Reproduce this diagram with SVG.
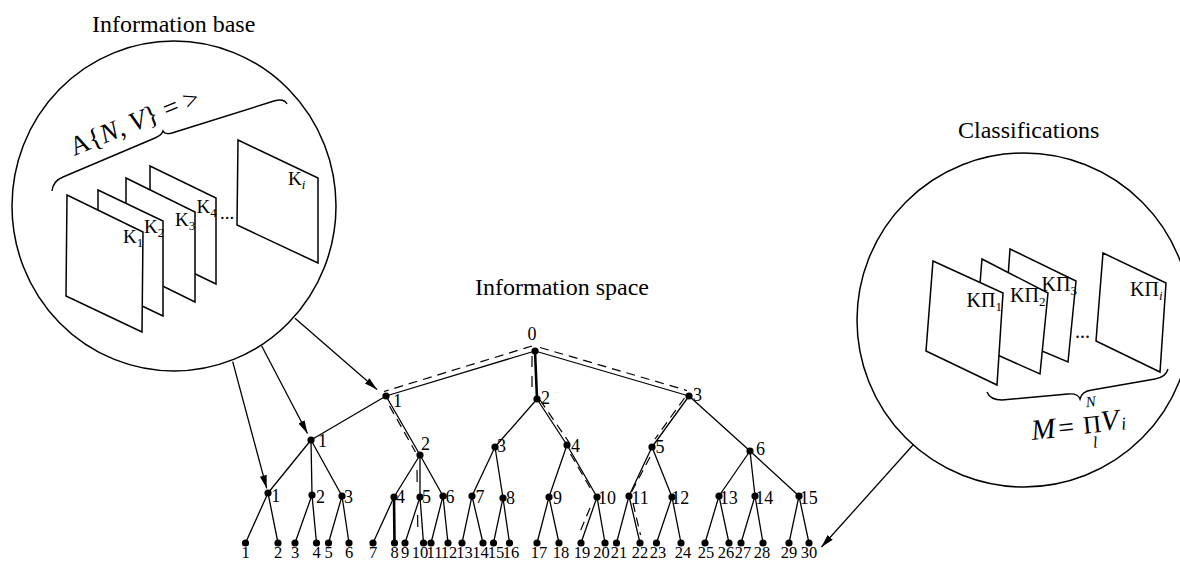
<svg xmlns="http://www.w3.org/2000/svg" width="1180" height="561" viewBox="0 0 1180 561">
<defs>
<style>
text{font-family:"Liberation Serif","Times New Roman",serif;fill:#000}
.title{font-size:24px}
.lbl{font-size:18px}
.leaf{font-size:16.5px;text-anchor:middle}
.k{font-size:19px}
.kp{font-size:20px}
.sub{font-size:13px}
.it{font-style:italic}
.ring{fill:none;stroke:#000;stroke-width:1.5}
.sheet{fill:#fff;stroke:#000;stroke-width:1.5;stroke-linejoin:miter}
.brace{fill:none;stroke:#000;stroke-width:1.4}
.edge{fill:none;stroke:#000;stroke-width:1.3}
.thick{fill:none;stroke:#000;stroke-width:2.6}
.dash{fill:none;stroke:#000;stroke-width:1.2;stroke-dasharray:9 6}
.arrow{fill:none;stroke:#000;stroke-width:1.3;marker-end:url(#ah)}
.dot{fill:#000}
</style>
<marker id="ah" markerUnits="userSpaceOnUse" markerWidth="14" markerHeight="8" refX="13" refY="3.5" orient="auto">
<path d="M0,0 L13,3.5 L0,7 z" fill="#000"/>
</marker>
</defs>
<rect width="1180" height="561" fill="#fff"/>

<g id="information-base">
<text class="title" x="92" y="32">Information base</text>
<ellipse class="ring" cx="174" cy="206" rx="162" ry="165"/>
<path class="brace" d="M52,191 Q53,181 63,177 L155,138 Q162,135 163,131 Q165,135 172,133 L274,101 Q284,98 287,104"/>
<text transform="rotate(-22 74 156)" x="74" y="156" style="font-size:27px">A{<tspan class="it">N</tspan>, <tspan class="it">V</tspan>} = &gt;</text>
<polygon class="sheet" points="238,140 318,178 318,263 237,225"/>
<polygon class="sheet" points="150,166 216,198 216,284 150,252"/>
<polygon class="sheet" points="126,178 195,212 195,302 126,268"/>
<polygon class="sheet" points="98,190 163,221 163,316 98,285"/>
<polygon class="sheet" points="67,195 143,232 142,332 66,296"/>
<text class="k" x="123" y="243">K<tspan class="sub" dy="4">1</tspan></text>
<text class="k" x="144" y="233">K<tspan class="sub" dy="4">2</tspan></text>
<text class="k" x="175" y="226">K<tspan class="sub" dy="4">3</tspan></text>
<text class="k" x="196.5" y="212.5">K<tspan class="sub" dy="4">4</tspan></text>
<text class="k" x="220" y="219">...</text>
<text class="k" x="288" y="185">K<tspan class="sub it" dy="4">i</tspan></text>
</g>

<g id="classifications">
<text class="title" x="958" y="138">Classifications</text>
<circle class="ring" cx="1024" cy="320" r="167"/>
<polygon class="sheet" points="1103,253 1166,283 1160,372 1096,341"/>
<polygon class="sheet" points="1010,249 1076,281 1068,362 1004,335"/>
<polygon class="sheet" points="982,259 1048,293 1040,374 975,345"/>
<polygon class="sheet" points="933,261 1003,293 997,385 926,351"/>
<text class="kp" x="966.5" y="307">KП<tspan class="sub" dy="4">1</tspan></text>
<text class="kp" x="1010" y="302">KП<tspan class="sub" dy="4">2</tspan></text>
<text class="kp" x="1041.5" y="291">KП<tspan class="sub" dy="4">3</tspan></text>
<text class="kp" x="1130" y="296">KП<tspan class="sub it" dy="4">i</tspan></text>
<text class="kp" x="1075" y="338">...</text>
<path class="brace" d="M987,392 Q990,400 1002,400 L1068,394 Q1078,393 1080,399 Q1082,391 1092,390 L1155,379 Q1166,377 1168,369"/>
<g transform="rotate(-6 1080 425)">
<text class="it" x="1031" y="435" style="font-size:29px">M</text>
<text x="1058" y="435" style="font-size:28px">=</text>
<text x="1083" y="434" style="font-size:25px">Π</text>
<text class="it" x="1101" y="433" style="font-size:29px">V</text>
<text class="it" x="1121" y="434" style="font-size:18px">i</text>
<text class="it" x="1088" y="408" style="font-size:15px">N</text>
<text class="it" x="1091" y="449" style="font-size:16px">l</text>
</g>
</g>

<g id="information-space-title">
<text class="title" x="475" y="295">Information space</text>
</g>

<g id="connectors">
<path class="edge" d="M535,351 L386,396 M535,351 L689,396"/>
<path class="thick" d="M535,351 L537,399"/>
<path class="edge" d="M386,396 L311,440 M386,396 L420,455 M537,399 L495,447 M537,399 L567,445 M689,396 L652,447 M689,396 L750,451"/>
<path class="edge" d="M311,440 L268,493 M311,440 L312,495 M311,440 L342,496 M420,455 L394,497 M420,455 L420,497 M420,455 L443,496 M495,447 L472,496 M495,447 L503,498 M567,445 L549,497 M567,445 L597,497 M652,447 L629,496 M652,447 L672,497 M750,451 L719,496 M750,451 L755,496 M750,451 L799,496"/>
<path class="edge" d="M268,493 L245.5,543 M268,493 L278,543 M312,495 L295,543 M312,495 L316.5,543 M342,496 L328.5,543 M342,496 L349,543 M394,497 L373,543 M420,497 L405,543 M420,497 L423.5,543 M443,496 L431,543 M443,496 L448,543 M472,496 L462,543 M472,496 L483,543 M503,498 L493.5,543 M503,498 L509.5,543 M549,497 L537,543 M549,497 L559,543 M597,497 L581,543 M597,497 L605,543 M629,496 L616.5,543 M629,496 L640,543 M672,497 L656.5,543 M672,497 L681,543 M719,496 L705,543 M719,496 L729,543 M755,496 L741,543 M755,496 L763,543 M799,496 L789,543 M799,496 L809,543"/>
<path class="thick" d="M394,497 L394.5,543"/>
<path class="dash" d="M532,346 L384,391.5"/>
<path class="dash" d="M540,347.5 L687,390.5"/>
<path class="dash" style="stroke-dasharray:11 9" d="M532,356 L532,396"/>
<path class="dash" d="M389.5,406 L415.5,452"/>
<path class="dash" style="stroke-dasharray:12 33" d="M417,470 L418,542"/>
<path class="dash" d="M540,400 L569.5,443"/>
<path class="dash" d="M570.5,454 L592.5,492"/>
<path class="dash" d="M590,508 L579.5,533"/>
<path class="dash" d="M684.5,398 L655,439"/>
<path class="dash" d="M650,457 L631,493"/>
<path class="dash" d="M633,503 L640.5,535"/>
<path class="arrow" d="M232.7,361.7 L266.7,488.3"/>
<path class="arrow" d="M261.7,346 L307.5,433.5"/>
<path class="arrow" d="M295,318.3 L377,389.5"/>
<path class="arrow" d="M913,445 L821.5,547"/>
</g>

<g id="node-0"><circle class="dot" cx="535" cy="351" r="3.6"/><text class="lbl" x="532" y="340" text-anchor="middle">0</text></g>
<g id="node-L1-1"><circle class="dot" cx="386" cy="396" r="3.6"/><text class="lbl" x="393" y="407">1</text></g>
<g id="node-L1-2"><circle class="dot" cx="537" cy="399" r="3.6"/><text class="lbl" x="541" y="404">2</text></g>
<g id="node-L1-3"><circle class="dot" cx="689" cy="396" r="3.6"/><text class="lbl" x="693" y="401">3</text></g>
<g id="node-L2-1"><circle class="dot" cx="311" cy="440" r="3.6"/><text class="lbl" x="318" y="447">1</text></g>
<g id="node-L2-2"><circle class="dot" cx="420" cy="455" r="3.6"/><text class="lbl" x="421" y="450">2</text></g>
<g id="node-L2-3"><circle class="dot" cx="495" cy="447" r="3.6"/><text class="lbl" x="497" y="452">3</text></g>
<g id="node-L2-4"><circle class="dot" cx="567" cy="445" r="3.6"/><text class="lbl" x="571" y="452">4</text></g>
<g id="node-L2-5"><circle class="dot" cx="652" cy="447" r="3.6"/><text class="lbl" x="655.5" y="453">5</text></g>
<g id="node-L2-6"><circle class="dot" cx="750" cy="451" r="3.6"/><text class="lbl" x="756" y="455">6</text></g>
<g id="node-L3-1"><circle class="dot" cx="268" cy="493" r="3.6"/><text class="lbl" x="271.3" y="502">1</text></g>
<g id="node-L3-2"><circle class="dot" cx="312" cy="495" r="3.6"/><text class="lbl" x="316" y="503">2</text></g>
<g id="node-L3-3"><circle class="dot" cx="342" cy="496" r="3.6"/><text class="lbl" x="344" y="503">3</text></g>
<g id="node-L3-4"><circle class="dot" cx="394" cy="497" r="3.6"/><text class="lbl" x="396" y="503">4</text></g>
<g id="node-L3-5"><circle class="dot" cx="420" cy="497" r="3.6"/><text class="lbl" x="422" y="503">5</text></g>
<g id="node-L3-6"><circle class="dot" cx="443" cy="496" r="3.6"/><text class="lbl" x="445.5" y="503">6</text></g>
<g id="node-L3-7"><circle class="dot" cx="472" cy="496" r="3.6"/><text class="lbl" x="475.5" y="503">7</text></g>
<g id="node-L3-8"><circle class="dot" cx="503" cy="498" r="3.6"/><text class="lbl" x="506" y="504">8</text></g>
<g id="node-L3-9"><circle class="dot" cx="549" cy="497" r="3.6"/><text class="lbl" x="553" y="504">9</text></g>
<g id="node-L3-10"><circle class="dot" cx="597" cy="497" r="3.6"/><text class="lbl" x="598" y="504">10</text></g>
<g id="node-L3-11"><circle class="dot" cx="629" cy="496" r="3.6"/><text class="lbl" x="631.3" y="504">11</text></g>
<g id="node-L3-12"><circle class="dot" cx="672" cy="497" r="3.6"/><text class="lbl" x="671.3" y="504">12</text></g>
<g id="node-L3-13"><circle class="dot" cx="719" cy="496" r="3.6"/><text class="lbl" x="719.7" y="504">13</text></g>
<g id="node-L3-14"><circle class="dot" cx="755" cy="496" r="3.6"/><text class="lbl" x="755.3" y="504">14</text></g>
<g id="node-L3-15"><circle class="dot" cx="799" cy="496" r="3.6"/><text class="lbl" x="799.7" y="504">15</text></g>

<g id="leaf-1"><circle class="dot" cx="245.5" cy="543" r="3.6"/><text class="leaf" x="245.5" y="557.5">1</text></g>
<g id="leaf-2"><circle class="dot" cx="278" cy="543" r="3.6"/><text class="leaf" x="278" y="557.5">2</text></g>
<g id="leaf-3"><circle class="dot" cx="295" cy="543" r="3.6"/><text class="leaf" x="295" y="557.5">3</text></g>
<g id="leaf-4"><circle class="dot" cx="316.5" cy="543" r="3.6"/><text class="leaf" x="316.5" y="557.5">4</text></g>
<g id="leaf-5"><circle class="dot" cx="328.5" cy="543" r="3.6"/><text class="leaf" x="328.5" y="557.5">5</text></g>
<g id="leaf-6"><circle class="dot" cx="349" cy="543" r="3.6"/><text class="leaf" x="349" y="557.5">6</text></g>
<g id="leaf-7"><circle class="dot" cx="373" cy="543" r="3.6"/><text class="leaf" x="373" y="557.5">7</text></g>
<g id="leaf-8"><circle class="dot" cx="394.5" cy="543" r="3.6"/><text class="leaf" x="394.5" y="557.5">8</text></g>
<g id="leaf-9"><circle class="dot" cx="405" cy="543" r="3.6"/><text class="leaf" x="405" y="557.5">9</text></g>
<g id="leaf-10"><circle class="dot" cx="423.5" cy="543" r="3.6"/><text class="leaf" x="420" y="557.5">10</text></g>
<g id="leaf-11"><circle class="dot" cx="431" cy="543" r="3.6"/><text class="leaf" x="434.5" y="557.5">11</text></g>
<g id="leaf-12"><circle class="dot" cx="448" cy="543" r="3.6"/><text class="leaf" x="449" y="557.5">12</text></g>
<g id="leaf-13"><circle class="dot" cx="462" cy="543" r="3.6"/><text class="leaf" x="464.5" y="557.5">13</text></g>
<g id="leaf-14"><circle class="dot" cx="483" cy="543" r="3.6"/><text class="leaf" x="480.5" y="557.5">14</text></g>
<g id="leaf-15"><circle class="dot" cx="493.5" cy="543" r="3.6"/><text class="leaf" x="496" y="557.5">15</text></g>
<g id="leaf-16"><circle class="dot" cx="509.5" cy="543" r="3.6"/><text class="leaf" x="511" y="557.5">16</text></g>
<g id="leaf-17"><circle class="dot" cx="537" cy="543" r="3.6"/><text class="leaf" x="539" y="557.5">17</text></g>
<g id="leaf-18"><circle class="dot" cx="559" cy="543" r="3.6"/><text class="leaf" x="561" y="557.5">18</text></g>
<g id="leaf-19"><circle class="dot" cx="581" cy="543" r="3.6"/><text class="leaf" x="582" y="557.5">19</text></g>
<g id="leaf-20"><circle class="dot" cx="605" cy="543" r="3.6"/><text class="leaf" x="601.5" y="557.5">20</text></g>
<g id="leaf-21"><circle class="dot" cx="616.5" cy="543" r="3.6"/><text class="leaf" x="619" y="557.5">21</text></g>
<g id="leaf-22"><circle class="dot" cx="640" cy="543" r="3.6"/><text class="leaf" x="640" y="557.5">22</text></g>
<g id="leaf-23"><circle class="dot" cx="656.5" cy="543" r="3.6"/><text class="leaf" x="658" y="557.5">23</text></g>
<g id="leaf-24"><circle class="dot" cx="681" cy="543" r="3.6"/><text class="leaf" x="683" y="557.5">24</text></g>
<g id="leaf-25"><circle class="dot" cx="705" cy="543" r="3.6"/><text class="leaf" x="706" y="557.5">25</text></g>
<g id="leaf-26"><circle class="dot" cx="729" cy="543" r="3.6"/><text class="leaf" x="726" y="557.5">26</text></g>
<g id="leaf-27"><circle class="dot" cx="741" cy="543" r="3.6"/><text class="leaf" x="743" y="557.5">27</text></g>
<g id="leaf-28"><circle class="dot" cx="763" cy="543" r="3.6"/><text class="leaf" x="762" y="557.5">28</text></g>
<g id="leaf-29"><circle class="dot" cx="789" cy="543" r="3.6"/><text class="leaf" x="789" y="557.5">29</text></g>
<g id="leaf-30"><circle class="dot" cx="809" cy="543" r="3.6"/><text class="leaf" x="809" y="557.5">30</text></g>
</svg>
